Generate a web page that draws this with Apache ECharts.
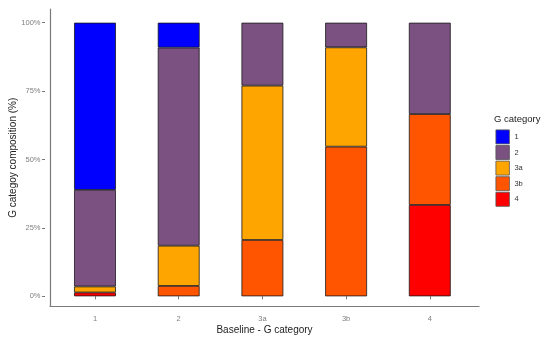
<!DOCTYPE html>
<html><head><meta charset="utf-8">
<script src="https://cdn.jsdelivr.net/npm/echarts@6/dist/echarts.min.js"></script>
<style>html,body{margin:0;padding:0;background:#fff}#c{width:550px;height:340px}</style>
</head><body><div id="c"></div>
<script>
const categories = ['1', '2', '3a', '3b', '4'];
const yTicks = [0, 25, 50, 75, 100];
// composition (%) per baseline category
const g4  = [1.4, 0,    0,    0,    33.4];
const g3b = [0,   3.8,  20.6, 54.7, 33.2];
const g3a = [2.2, 14.7, 56.4, 36.3, 0];
const g2  = [35.3, 72.4, 23.0, 9.0, 33.4];
const g1  = [61.1, 9.1, 0,    0,    0];
const legendOrder = ['1', '2', '3a', '3b', '4'];

const FONT = 'Liberation Sans';
const colors = {'1': '#0000FF', '2': '#7B5181', '3a': '#FFA500', '3b': '#FF5500', '4': '#FF0000'};
function ser(name, data) {
  return {
    name, type: 'bar', stack: 'total', data: data.map(v => v === 0 ? '-' : v),
    xAxisIndex: 0, yAxisIndex: 0,
    barWidth: '50%',
    itemStyle: {color: colors[name], borderColor: '#1a1a1a', borderWidth: 0.8},
    emphasis: {disabled: true}
  };
}
const chart = echarts.init(document.getElementById('c'), null, {renderer: 'canvas'});
chart.setOption({
  animation: false,
  textStyle: {fontFamily: FONT},
  title: {text: 'G category', left: 494, top: 114, padding: 0,
    textStyle: {fontFamily: FONT, fontSize: 9.5, fontWeight: 'normal', color: '#222'}},
  legend: {
    orient: 'vertical', left: 495.5, top: 129.5, padding: 0, itemWidth: 13.5, itemHeight: 14, itemGap: 0.8,
    icon: 'rect', data: legendOrder,
    itemStyle: {borderColor: '#555', borderWidth: 0.8},
    textStyle: {fontFamily: FONT, fontSize: 7.5, color: '#333'}
  },
  grid: [
    {left: 53.15, top: 22.7, width: 418.5, height: 273.6},
    {left: 45, top: 9, width: 434, height: 301.7}
  ],
  xAxis: [
    {type: 'category', gridIndex: 0, data: categories, offset: 14.4,
     axisLine: {show: false},
     axisTick: {show: true, alignWithLabel: true, length: 3, lineStyle: {color: '#777'}},
     axisLabel: {fontSize: 7.5, color: '#808080', margin: 4, fontFamily: FONT}},
    {type: 'value', gridIndex: 1, min: 0, max: 1,
     axisLine: {show: true, onZero: false, lineStyle: {color: '#7a7a7a', width: 1.2}},
     axisTick: {show: false}, axisLabel: {show: false}, splitLine: {show: false},
     name: 'Baseline - G category', nameLocation: 'middle', nameGap: 18.5,
     nameTextStyle: {fontSize: 10, color: '#222', fontFamily: FONT}}
  ],
  yAxis: [
    {type: 'value', gridIndex: 0, min: 0, max: 100, interval: 25, offset: 8.15,
     axisLine: {show: false},
     axisTick: {show: true, length: 3, lineStyle: {color: '#777'}},
     axisLabel: {fontSize: 7.5, color: '#808080', margin: 4.5, fontFamily: FONT,
       formatter: v => yTicks.includes(v) ? v + '%' : ''},
     splitLine: {show: false}},
    {type: 'value', gridIndex: 1, min: 0, max: 1,
     axisLine: {show: true, onZero: false, lineStyle: {color: '#7a7a7a', width: 1.2}},
     axisTick: {show: false}, axisLabel: {show: false}, splitLine: {show: false},
     name: 'G categoy composition (%)', nameLocation: 'middle', nameGap: 32, nameRotate: 90,
     nameTextStyle: {fontSize: 10, color: '#222', fontFamily: FONT}}
  ],
  series: [ser('4', g4), ser('3b', g3b), ser('3a', g3a), ser('2', g2), ser('1', g1)]
});
</script></body></html>
